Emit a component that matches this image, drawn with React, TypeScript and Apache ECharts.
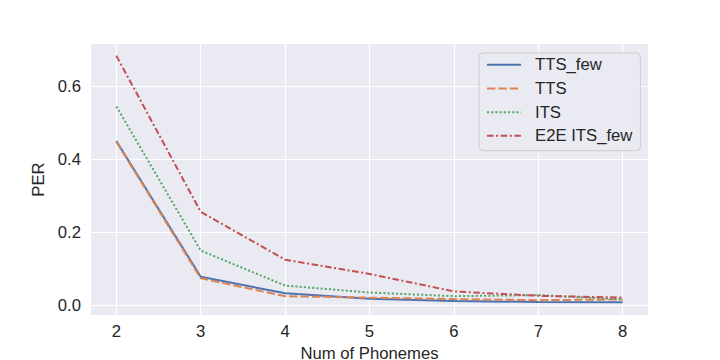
import React, { useEffect, useRef } from "react";
import * as echarts from "echarts";

const phonemes = [2, 3, 4, 5, 6, 7, 8];
const ttsFew = [0.45, 0.078, 0.033, 0.018, 0.012, 0.009, 0.008];
const tts = [0.448, 0.074, 0.025, 0.021, 0.017, 0.014, 0.016];
const its = [0.545, 0.15, 0.054, 0.035, 0.025, 0.028, 0.016];
const e2eItsFew = [0.684, 0.256, 0.125, 0.086, 0.038, 0.026, 0.021];
const yTicks = [0, 0.2, 0.4, 0.6];
const xTicks = [2, 3, 4, 5, 6, 7, 8];

const seriesNames = ["TTS_few", "TTS", "ITS", "E2E ITS_few"];
const seriesValues = [ttsFew, tts, its, e2eItsFew];
const colors = ["#4c72b0", "#dd8452", "#55a868", "#c44e52"];
const dashes: (string | number[])[] = ["solid", [8.3, 3.1], [2.1, 2.1], [6.5, 2.6, 2, 2.6]];

const FONT = "'Liberation Sans', Arial, sans-serif";
const TXT = "#262626";

export default function App() {
  const ref = useRef<HTMLDivElement>(null);
  useEffect(() => {
    if (!ref.current) return;
    const chart = echarts.init(ref.current, null, { renderer: "svg" });
    const option = {
      animation: false,
      backgroundColor: "#ffffff",
      textStyle: { fontFamily: FONT },
      grid: {
        left: 91,
        right: 72,
        top: 44,
        bottom: 45,
        show: true,
        backgroundColor: "#eaeaf2",
        borderWidth: 0,
        containLabel: false,
        outerBoundsMode: "none",
      },
      xAxis: {
        type: "value",
        min: 1.7,
        max: 8.3,
        name: "Num of Phonemes",
        nameLocation: "middle",
        nameGap: 25,
        nameTextStyle: { color: TXT, fontSize: 16.7, fontFamily: FONT, lineHeight: 15 },
        axisLine: { show: false },
        axisTick: { show: false, customValues: xTicks },
        axisLabel: {
          customValues: xTicks,
          color: TXT,
          fontSize: 16.7,
          fontFamily: FONT,
          margin: 8,
        },
        splitLine: { show: true, lineStyle: { color: "#ffffff", width: 1.1 } },
      },
      yAxis: {
        type: "value",
        min: -0.0266,
        max: 0.716,
        name: "PER",
        nameLocation: "middle",
        nameGap: 35,
        nameTextStyle: { color: TXT, fontSize: 16.7, fontFamily: FONT },
        axisLine: { show: false },
        axisTick: { show: false, customValues: yTicks },
        axisLabel: {
          customValues: yTicks,
          color: TXT,
          fontSize: 16.7,
          fontFamily: FONT,
          margin: 10,
          formatter: (v: number) => v.toFixed(1),
        },
        splitLine: { show: true, lineStyle: { color: "#ffffff", width: 1.1 } },
      },
      legend: {
        orient: "vertical",
        left: 479,
        top: 53,
        padding: [0, 8, 3, 7],
        itemGap: 0,
        itemWidth: 34,
        itemHeight: 14,
        itemStyle: { opacity: 0 },
        backgroundColor: "rgba(234,234,242,0.8)",
        borderColor: "#cccccc",
        borderWidth: 1,
        borderRadius: 4,
        textStyle: {
          color: TXT,
          fontSize: 16.7,
          fontFamily: FONT,
          lineHeight: 23.67,
          padding: [0, 0, 0, 9],
        },
        data: seriesNames,
      },
      series: seriesNames.map((n, i) => ({
        name: n,
        type: "line",
        data: phonemes.map((x, j) => [x, seriesValues[i][j]]),
        showSymbol: false,
        symbol: "none",
        lineStyle: { color: colors[i], width: 2, type: dashes[i] },
        itemStyle: { color: colors[i] },
      })),
    };
    chart.setOption(option as any);
    return () => chart.dispose();
  }, []);
  return (
    <div
      ref={ref}
      style={{ position: "absolute", left: 0, top: 0, width: 720, height: 360 }}
    />
  );
}
